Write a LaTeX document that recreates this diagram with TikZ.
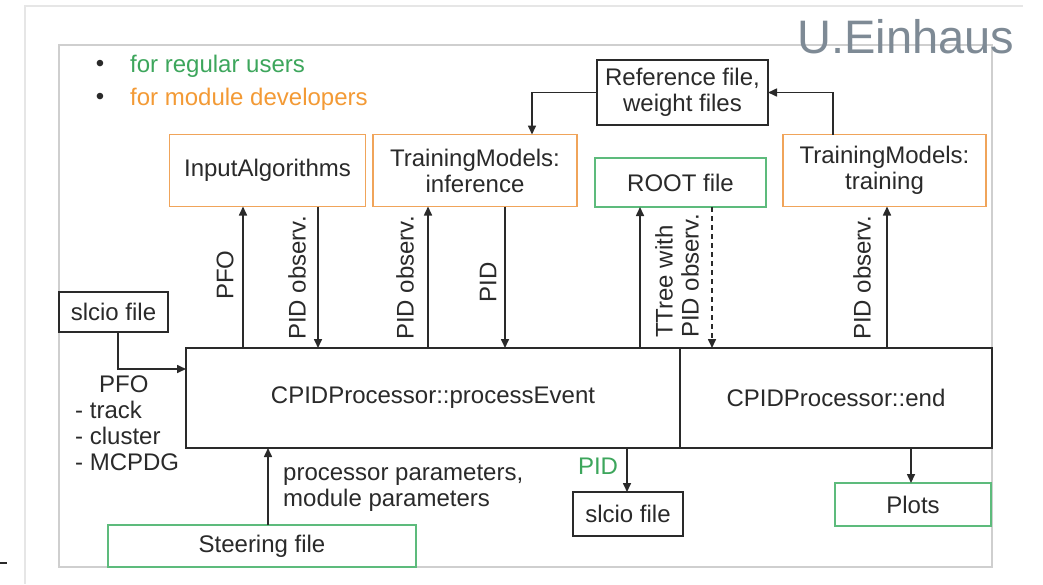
\documentclass[tikz,border=0pt]{standalone}
\usepackage{fontspec}
\setmainfont{Liberation Sans}
\usetikzlibrary{arrows.meta}
\definecolor{usergreen}{HTML}{3DA65C}
\definecolor{devorange}{HTML}{F39A35}
\definecolor{boxgreen}{HTML}{5DBB7C}
\definecolor{boxorange}{HTML}{F0A45A}
\definecolor{ink}{HTML}{2A2A2A}
\definecolor{framegray}{HTML}{CFCFCF}
\definecolor{slidegray}{HTML}{E6E6E6}
\definecolor{authorgray}{HTML}{7E8A95}
\tikzset{
  base/.style={draw=ink, line width=1.9pt, inner sep=0pt, outer sep=0pt,
    align=center, font=\fontsize{24}{26}\selectfont, text=ink},
  plainbox/.style={base},
  devbox/.style={base, draw=boxorange},
  userbox/.style={base, draw=boxgreen},
  arr/.style={draw=ink, line width=1.6pt, -{Triangle[length=9pt,width=8pt]}},
  dasharr/.style={arr, dash pattern=on 5pt off 4pt},
  lbl/.style={inner sep=0pt, font=\fontsize{24}{26}\selectfont, text=ink},
  vlbl/.style={lbl, rotate=90, align=left},
}
\begin{document}
\begin{tikzpicture}[x=1pt, y=-1pt]
\useasboundingbox (0,0) rectangle (1043,584);
\fill[white] (0,0) rectangle (1043,584);

% slide edges and content frame
\draw[slidegray, line width=1.5pt] (25,584) -- (25,6) -- (1023,6);
\draw[ink, line width=1.2pt] (0,563) -- (7,563);
\draw[framegray, line width=1.5pt] (59,45) rectangle (992,567);

% legend
\node[lbl] (b1) at (100,66) {\textbullet};
\node[lbl] (b2) at (100,99) {\textbullet};
\node[lbl, anchor=west, text=usergreen] (leg1) at (130,66) {for regular users};
\node[lbl, anchor=west, text=devorange] (leg2) at (130,99) {for module developers};

% author
\node[inner sep=0pt, font=\fontsize{47}{50}\selectfont, text=authorgray] (author) at (906,37) {U.Einhaus};

% modules and files
\node[devbox, minimum width=196pt, minimum height=72pt] (inalg) at (267.5,170.5) {InputAlgorithms};
\node[devbox, minimum width=204pt, minimum height=72pt] (tminf) at (475,170.5) {TrainingModels:\\inference};
\node[plainbox, minimum width=171pt, minimum height=65pt] (ref) at (682.5,92.5) {Reference file,\\weight files};
\node[userbox, minimum width=171pt, minimum height=49pt] (root) at (680.5,182.5) {ROOT file};
\node[devbox, minimum width=203pt, minimum height=72pt] (tmtrain) at (884.5,170.5) {TrainingModels:\\training};
\node[plainbox, minimum width=109pt, minimum height=40pt] (slcioin) at (113.5,312) {slcio file};
\node[plainbox, minimum width=494pt, minimum height=100pt] (procev) at (433,398) {CPIDProcessor::processEvent};
\node[plainbox, minimum width=312pt, minimum height=100pt] (procend) at (836,398) {CPIDProcessor::end};
\node[plainbox, minimum width=110pt, minimum height=44pt] (slcioout) at (628,514) {slcio file};
\node[userbox, minimum width=156pt, minimum height=43pt] (plots) at (913,504.5) {Plots};
\node[userbox, minimum width=308pt, minimum height=42pt] (steer) at (262,546) {Steering file};

% connector columns and rows
\coordinate (xa) at (532,0);
\coordinate (xb) at (833,0);
\coordinate (xpfo) at (243,0);
\coordinate (xobs1) at (318,0);
\coordinate (xobs2) at (428,0);
\coordinate (xpid) at (505,0);
\coordinate (xtree) at (640,0);
\coordinate (xdash) at (712,0);
\coordinate (xobs3) at (887,0);
\coordinate (xin) at (118,0);
\coordinate (yin) at (0,369);
\coordinate (xsteer) at (268,0);
\coordinate (xout) at (627,0);
\coordinate (xplot) at (911,0);

% weight files loop
\draw[arr] (ref.west) -| (xa |- tminf.north);
\draw[arr] (xb |- tmtrain.north) |- (ref.east);

% event processing
\draw[arr] (xpfo |- procev.north) -- (xpfo |- inalg.south);
\draw[arr] (xobs1 |- inalg.south) -- (xobs1 |- procev.north);
\draw[arr] (xobs2 |- procev.north) -- (xobs2 |- tminf.south);
\draw[arr] (xpid |- tminf.south) -- (xpid |- procev.north);
\draw[arr] (xtree |- procev.north) -- (xtree |- root.south);
\draw[dasharr] (xdash |- root.south) -- (xdash |- procend.north);
\draw[arr] (xobs3 |- procend.north) -- (xobs3 |- tmtrain.south);

% inputs and outputs
\draw[arr] (xin |- slcioin.south) |- (procev.west |- yin);
\draw[arr] (xsteer |- steer.north) -- (xsteer |- procev.south);
\draw[arr] (xout |- procev.south) -- (xout |- slcioout.north);
\draw[arr] (xplot |- procend.south) -- (xplot |- plots.north);

% connector labels
\node[vlbl] (lpfo) at (225,275) {PFO};
\node[vlbl] (lobs1) at (297,278) {PID observ.};
\node[vlbl] (lobs2) at (405,278) {PID observ.};
\node[vlbl] (lpid) at (488,282) {PID};
\node[vlbl, anchor=south west] (ltree) at (699,338) {TTree with\\PID observ.};
\node[vlbl] (lobs3) at (862,278) {PID observ.};
\node[lbl, anchor=north west, align=left] (lpfolist) at (75,376)
  {\hspace*{24pt}PFO\\- track\\- cluster\\- MCPDG};
\node[lbl, anchor=west, align=left] (lparams) at (283,488)
  {processor parameters,\\module parameters};
\node[lbl, text=usergreen] (lpidout) at (598,466) {PID};
\end{tikzpicture}
\end{document}
